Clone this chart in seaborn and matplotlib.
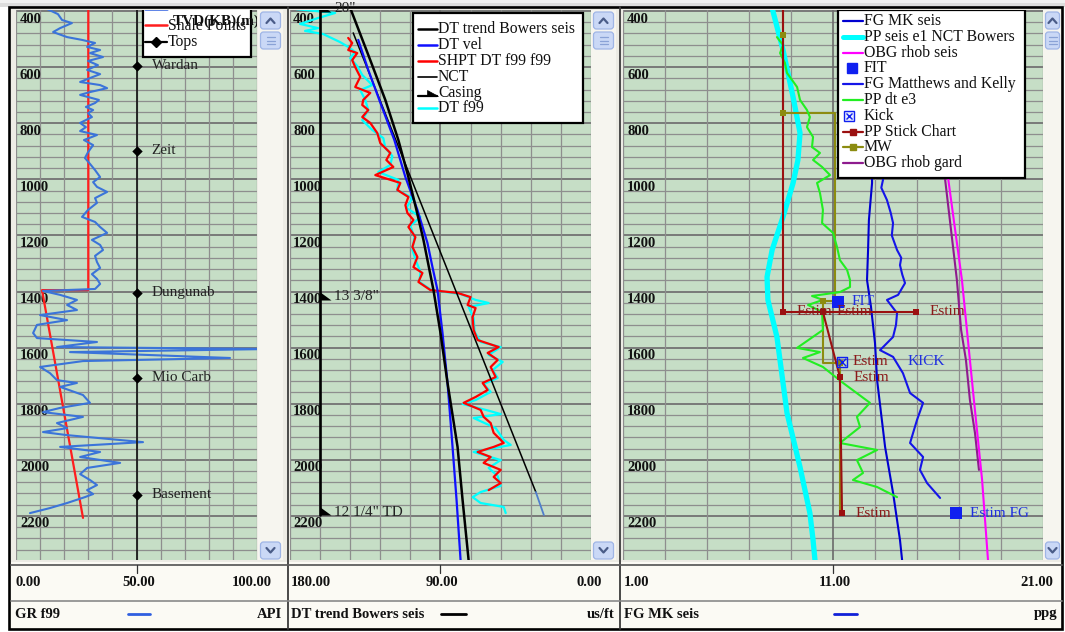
import matplotlib
matplotlib.use("Agg")
import matplotlib.pyplot as plt
import matplotlib.transforms as mtransforms
from matplotlib.patches import Rectangle, FancyBboxPatch, Polygon
from matplotlib.lines import Line2D
import seaborn as sns

# ---------------------------------------------------------------- data
DEPTH_TOP, DEPTH_BOTTOM = 396.4, 2357.2
DEPTH_LABELS = [400, 600, 800, 1000, 1200, 1400, 1600, 1800, 2000, 2200]
GRID_DEPTHS = [400 + 40 * k for k in range(0, 50)]

# Track 1 - gamma ray (API)
GR_RANGE = (0, 100)
GR_GRID = [0, 10, 20, 30, 40, 50, 60, 70, 80, 90, 100]
GR_TICKS = ["0.00", "50.00", "100.00"]
GR_DEPTH = [393, 411, 432, 443, 461, 475, 493, 503, 514, 528, 539, 550, 564, 578, 593, 610, 625, 639,
            653, 664, 675, 689, 699, 717, 728, 742, 753, 764, 778, 799, 814, 828, 842, 860, 878, 903,
            924, 945, 967, 992, 1010, 1027, 1045, 1067, 1084, 1109, 1134, 1152, 1170, 1191, 1216, 1234,
            1252, 1273, 1295, 1316, 1338, 1355, 1373, 1391, 1398, 1412, 1430, 1448, 1466, 1484, 1502,
            1519, 1548, 1566, 1580, 1598, 1605, 1616, 1637, 1648, 1669, 1691, 1716, 1726, 1740, 1769,
            1797, 1815, 1830, 1847, 1869, 1887, 1901, 1912, 1937, 1954, 1972, 1990, 2011, 2029, 2051,
            2072, 2090, 2108, 2122, 2133, 2154, 2172, 2190]
GR_API = [12.9, 17.4, 19.1, 23.2, 18.3, 15.4, 21.2, 27.4, 32.8, 29.5, 34.9, 30.7, 36.1, 29.9, 34.0,
          29.5, 34.9, 30.7, 26.6, 34.9, 37.8, 30.7, 26.6, 34.4, 32.8, 29.0, 32.0, 29.9, 31.5, 26.6,
          29.0, 26.6, 33.6, 28.2, 32.0, 29.9, 28.6, 30.7, 32.8, 34.9, 32.0, 33.6, 37.8, 32.8, 33.6,
          29.9, 27.4, 32.8, 34.9, 37.8, 31.5, 34.9, 36.1, 32.8, 33.6, 34.9, 31.5, 33.6, 34.9, 32.8,
          11.2, 18.3, 25.3, 21.2, 25.3, 10.0, 21.2, 8.7, 7.1, 8.7, 33.6, 17.0, 105.4, 22.4, 88.8,
          27.8, 10.0, 14.1, 17.0, 25.3, 18.3, 27.8, 30.7, 18.3, 11.2, 27.8, 17.0, 21.2, 11.2, 21.2,
          52.7, 18.3, 34.9, 26.6, 43.2, 29.5, 26.6, 30.7, 33.6, 29.5, 32.0, 28.6, 21.2, 14.1, 5.8]
SHALE_DEPTH = [389, 1395, 1395, 2207]
SHALE_API = [30.0, 30.0, 10.8, 27.8]
TOP_NAMES = ["Wardan", "Zeit", "Dungunab", "Mio Carb", "Basement"]
TOP_DEPTHS = [596, 899, 1405, 1708, 2125]
TOPS_TRACK_API = 50

# Track 2 - sonic (us/ft)
DT_RANGE = (180, 0)
DT_GRID = [0, 18, 36, 54, 72, 90, 108, 126, 144, 162, 180]
DT_TICKS = ["180.00", "90.00", "0.00"]
BOWERS_DEPTH = [389, 575, 717, 860, 992, 1109, 1216, 1395, 1548, 1726, 1954, 2143, 2357]
BOWERS_DT = [144.0, 132.0, 123.0, 115.2, 109.2, 104.4, 100.2, 94.2, 90.0, 85.8, 79.8, 76.8, 73.2]
DTVEL_DEPTH = [503, 610, 717, 860, 992, 1109, 1227, 1313, 1395, 1548, 1726, 1954, 2143, 2357]
DTVEL_DT = [139.2, 133.2, 126.6, 117.6, 111.0, 103.8, 97.8, 94.8, 91.8, 88.8, 85.8, 82.8, 80.4, 78.0]
NCT_DEPTH = [478, 2115]
NCT_DT = [142.2, 33.0]
NCT_TAIL_DEPTH = [2115, 2197]
NCT_TAIL_DT = [33.0, 28.2]
SHPT_DEPTH = [496, 514, 539, 550, 575, 600, 635, 671, 692, 717, 735, 753, 778, 799, 835, 871, 906, 931,
              956, 985, 1013, 1038, 1063, 1092, 1120, 1145, 1170, 1206, 1241, 1277, 1313, 1334, 1366,
              1395, 1405, 1420, 1448, 1459, 1491, 1537, 1573, 1598, 1619, 1644, 1669, 1705, 1726, 1751,
              1776, 1797, 1822, 1847, 1869, 1904, 1940, 1954, 1972, 1990, 2011, 2036, 2061, 2083, 2108]
SHPT_DT = [145.2, 142.8, 145.2, 139.8, 142.8, 141.0, 138.0, 141.0, 132.0, 136.2, 136.8, 133.2, 136.8,
           132.0, 127.8, 126.0, 120.0, 122.4, 118.2, 129.0, 114.0, 115.8, 109.2, 111.0, 109.8, 106.2,
           109.2, 105.0, 106.8, 103.8, 106.2, 100.8, 103.2, 96.0, 79.8, 72.0, 73.8, 69.0, 70.8, 70.2,
           67.8, 55.2, 61.8, 55.8, 60.0, 57.0, 64.8, 61.8, 69.0, 76.2, 66.0, 64.2, 60.0, 58.2, 52.2,
           58.2, 67.8, 60.0, 64.2, 54.0, 58.2, 54.0, 61.2]
DTF99_DEPTH = [393, 407, 425, 446, 461, 471, 482, 511, 528, 546, 568, 596, 628, 664, 682, 717, 753, 789,
               824, 853, 888, 917, 949, 974, 1002, 1038, 1067, 1102, 1134, 1166, 1206, 1252, 1295, 1330,
               1366, 1395, 1409, 1430, 1441, 1455, 1494, 1544, 1580, 1598, 1626, 1651, 1680, 1708, 1730,
               1758, 1787, 1801, 1822, 1837, 1851, 1887, 1929, 1947, 1972, 2001, 2029, 2058, 2093, 2115,
               2133, 2154, 2168, 2190]
DTF99_DT = [176.4, 153.0, 163.2, 174.0, 163.2, 171.0, 160.2, 150.0, 145.2, 141.0, 144.0, 139.8, 136.8,
            130.8, 138.0, 135.0, 133.2, 136.8, 130.8, 124.2, 123.0, 118.8, 120.0, 127.2, 115.2, 115.8,
            106.8, 110.4, 102.0, 108.0, 105.6, 106.8, 104.4, 102.0, 102.6, 95.4, 78.0, 69.0, 61.2, 73.2,
            70.2, 69.6, 66.0, 54.0, 61.2, 52.8, 58.8, 55.8, 64.2, 60.0, 69.0, 76.8, 63.0, 54.0, 70.2,
            57.0, 52.2, 48.0, 70.2, 54.0, 61.2, 55.8, 54.0, 66.0, 70.8, 66.0, 52.2, 51.0]
CASING_DT = 162
CASING_BOTTOM = 2197
CASING_SHOE_DEPTH = [403, 1430, 2197]
CASING_SHOE_NAMES = ['20"', '13 3/8"', '12 1/4" TD']

# Track 3 - pressure (ppg)
PPG_RANGE = (1, 21)
PPG_GRID = [1, 3, 5, 7, 9, 11, 13, 15, 17, 19, 21]
PPG_TICKS = ["1.00", "11.00", "21.00"]
FG_MK_DEPTH = [389, 646, 896, 1013, 1145, 1252, 1359, 1455, 1584, 1716, 1954, 2118, 2286, 2357]
FG_MK_PPG = [12.57, 12.76, 12.86, 12.86, 12.71, 12.67, 12.62, 12.81, 13.0, 13.1, 13.48, 13.86, 14.19, 14.29]
FG_MATTHEWS_DEPTH = [389, 700, 896, 1002, 1030, 1074, 1120, 1156, 1200, 1252, 1280, 1306, 1340, 1370,
                     1412, 1430, 1477, 1519, 1562, 1609, 1633, 1691, 1762, 1797, 1858, 1940, 1990, 2036,
                     2083, 2136]
FG_MATTHEWS_PPG = [13.0, 13.1, 13.24, 13.38, 13.3, 13.57, 13.75, 13.86, 13.8, 14.05, 14.25, 14.19, 14.3,
                   14.43, 14.10, 13.57, 14.05, 14.0, 13.86, 13.24, 13.86, 14.33, 14.67, 15.29, 15.0,
                   14.67, 15.29, 15.14, 15.48, 16.10]
PP_SEIS_DEPTH = [389, 539, 707, 835, 931, 1013, 1134, 1252, 1348, 1430, 1562, 1833, 2026, 2190, 2286, 2357]
PP_SEIS_PPG = [8.10, 8.62, 9.10, 9.43, 9.33, 9.10, 8.62, 8.10, 7.86, 7.90, 8.33, 8.81, 9.43, 9.90, 10.05, 10.14]
OBG_SEIS_DEPTH = [389, 995, 1359, 1787, 2072, 2357]
OBG_SEIS_PPG = [15.86, 16.48, 17.14, 17.71, 18.10, 18.38]
OBG_GARD_DEPTH = [389, 995, 1359, 1537, 1644, 1787, 1904, 2036]
OBG_GARD_PPG = [15.52, 16.33, 16.90, 17.10, 17.33, 17.52, 17.76, 17.95]
PPDT_DEPTH = [493, 521, 550, 585, 621, 671, 717, 753, 778, 814, 849, 885, 906, 931, 956, 985, 1013, 1049,
              1109, 1156, 1191, 1241, 1288, 1323, 1359, 1384, 1402, 1416, 1430, 1448, 1473, 1537, 1601,
              1616, 1637, 1669, 1726, 1797, 1847, 1883, 1940, 1965, 2001, 2047, 2072, 2097, 2133]
PPDT_PPG = [8.33, 8.62, 8.48, 8.71, 8.81, 9.29, 9.43, 9.76, 9.90, 9.76, 10.05, 10.0, 10.38, 10.05, 10.48,
            10.86, 10.24, 10.38, 10.52, 10.48, 11.0, 11.19, 11.33, 11.67, 11.81, 11.81, 11.33, 10.0,
            10.52, 9.81, 10.48, 10.52, 9.29, 10.38, 9.57, 10.52, 11.48, 12.76, 12.14, 12.29, 11.33,
            13.1, 12.14, 12.43, 11.95, 13.1, 14.05]
STICK_A_DEPTH, STICK_A_PPG = [389, 1473], [8.62, 8.62]
STICK_B_DEPTH, STICK_B_PPG = [1473, 1473], [8.62, 14.95]
STICK_C_DEPTH, STICK_C_PPG = [1473, 1705, 2190], [10.52, 11.33, 11.43]
STICK_MARK_DEPTH = [1473, 1473, 1473, 1705, 2190]
STICK_MARK_PPG = [8.62, 10.52, 14.95, 11.33, 11.43]
MW_DEPTH = [389, 486, 764, 764, 1434, 1434, 1655, 1655, 2190]
MW_PPG = [8.62, 8.62, 8.62, 11.10, 11.10, 10.52, 10.52, 11.33, 11.33]
MW_MARK_DEPTH = [486, 764, 1434, 1655]
MW_MARK_PPG = [8.62, 8.62, 10.52, 11.33]
FIT_DEPTH, FIT_PPG = [1437], [11.24]
KICK_DEPTH, KICK_PPG = [1651], [11.43]
ESTIM_FG_DEPTH, ESTIM_FG_PPG = [2190], [16.86]

# ---------------------------------------------------------------- style
sns.set_theme(style="white")
plt.rcParams['font.family'] = ['Liberation Serif', 'DejaVu Serif']

W, H = 1065, 632
PANEL_TOP, PANEL_BOTTOM = 10, 560
GREEN = '#C6DEC6'
GRID = '#8E8E8E'
GRID_MAJOR = '#767676'
CREAM = '#FBFAF4'
PANEL_GREY = '#ECEBE4'

fig = plt.figure(figsize=(W / 100, H / 100), dpi=100, facecolor='white')
PIX = mtransforms.Affine2D().scale(1.0 / W, -1.0 / H).translate(0, 1) + fig.transFigure

# background canvas in pixel units (frame, scroll bars, scale boxes)
bg = fig.add_axes([0, 0, 1, 1], zorder=0)
bg.set_xlim(0, W)
bg.set_ylim(H, 0)
bg.axis('off')

bg.add_patch(Rectangle((0, 0), W, 3, fc='#F1F1F1', ec='none'))
bg.add_patch(Rectangle((0, 3), W, 4, fc='#DDDDDD', ec='none'))
bg.add_patch(Rectangle((9, 7), 1053, 622, fc=PANEL_GREY, ec='none'))


def scroll_column(x0, x1):
    w = x1 - x0
    cx = (x0 + x1) / 2
    bg.add_patch(Rectangle((x0, PANEL_TOP), w, PANEL_BOTTOM - PANEL_TOP, fc='#F6F5EF', ec='none'))
    for yb, hb in [(12, 17), (32, 17), (542, 17)]:
        bg.add_patch(FancyBboxPatch((x0 + 2.5, yb), w - 5, hb,
                                    boxstyle='round,pad=0,rounding_size=3',
                                    fc='#CAD8F6', ec='#9FB5E6', lw=0.9))
    bg.plot([cx - 4, cx, cx + 4], [23, 18.5, 23], color='#4A5C88', lw=1.6, solid_capstyle='round')
    for yy in (37, 40.5, 44):
        bg.plot([cx - 4, cx + 4], [yy, yy], color='#8AA2D6', lw=0.9)
    bg.plot([cx - 4, cx, cx + 4], [548, 552.5, 548], color='#4A5C88', lw=1.6, solid_capstyle='round')


scroll_column(258, 283)
scroll_column(591, 616)
scroll_column(1043, 1062)
bg.add_patch(Rectangle((10, PANEL_TOP), 6, PANEL_BOTTOM - PANEL_TOP, fc='#EEEDE6', ec='none'))

for xd in (287.5, 620):
    bg.plot([xd, xd], [7, 629], color='#3C3C3C', lw=1.3)


def scale_box(x0, x1, ticks, tick_x, name, unit, key_color, key_x, lo_x, hi_x):
    bg.add_patch(Rectangle((x0, 562), x1 - x0, 66, fc=CREAM, ec='none'))
    bg.plot([x0, x1], [565, 565], color='#5E5E5E', lw=1.3)
    bg.plot([x0, x1], [600.5, 600.5], color='#8A8A8A', lw=1.2)
    bg.plot([tick_x, tick_x], [565, 573], color='#333333', lw=0.9)
    kw = dict(va='center', fontsize=10.5, fontweight='bold', color='#111111')
    bg.text(lo_x, 582, ticks[0], ha='left', **kw)
    bg.text(tick_x + 2, 582, ticks[1], ha='center', **kw)
    bg.text(hi_x, 582, ticks[2], ha='right', **kw)
    bg.text(lo_x, 614, name, ha='left', **kw)
    bg.text(x1 - 5, 614, unit, ha='right', **kw)
    bg.plot(key_x, [614, 614], color=key_color, lw=2.0)


scale_box(11, 287, GR_TICKS, 136.5, "GR f99", "API", '#2F5FE0', [128, 150], 15, 272)
scale_box(288, 620, DT_TICKS, 440, "DT trend Bowers seis", "us/ft", 'black', [441, 466], 291, 602)
scale_box(621, 1062, PPG_TICKS, 833, "FG MK seis", "ppg", '#1020D8', [834, 857], 624, 1053)

bg.add_patch(Rectangle((9, 7), 1053, 622, fc='none', ec='black', lw=1.9))


# ---------------------------------------------------------------- tracks
def track_axes(x0, x1):
    return fig.add_axes([x0 / W, 1 - PANEL_BOTTOM / H, (x1 - x0) / W,
                         (PANEL_BOTTOM - PANEL_TOP) / H], zorder=2)


def finish_track(ax, xlim, xgrid, center, label_dx):
    ax.set_facecolor(GREEN)
    for s in ax.spines.values():
        s.set_visible(False)
    for d in GRID_DEPTHS:
        major = d % 200 == 0
        ax.axhline(d, color=GRID_MAJOR if major else GRID, lw=1.35 if major else 0.9, zorder=0.5)
    for xv in xgrid:
        c = xv == center
        ax.axvline(xv, color='#6A6A6A' if c else GRID, lw=1.2 if c else 0.9, zorder=0.5)
    for d in DEPTH_LABELS:
        ax.annotate(str(d), xy=(0, d), xycoords=('axes fraction', 'data'),
                    xytext=(label_dx, -8), textcoords='offset pixels', ha='left', va='center',
                    fontsize=10.5, fontweight='bold', color='#111111', zorder=1.5)
    ax.set_xlim(*xlim)
    ax.set_ylim(DEPTH_BOTTOM, DEPTH_TOP)
    ax.set_xticks([])
    ax.set_yticks([])
    ax.set_xlabel('')
    ax.set_ylabel('')


def curve(ax, x, y, color, lw, z=3):
    sns.lineplot(x=x, y=y, sort=False, estimator=None, color=color, linewidth=lw, ax=ax, zorder=z)


def marks(ax, x, y, marker, size, color, z=6, **kw):
    sns.scatterplot(x=x, y=y, marker=marker, s=size, color=color, linewidth=0,
                    ax=ax, zorder=z, legend=False, **kw)


def tag(ax, x, y, text, color, dx, dy=0, size=11):
    ax.annotate(text, xy=(x, y), xytext=(dx, dy), textcoords='offset pixels', ha='left',
                va='center', color=color, fontsize=size, zorder=7)


def legend_frame(ax, x0, y0, x1, y1):
    ax.add_artist(Rectangle((x0, y0), x1 - x0, y1 - y0, transform=PIX, fc='white',
                            ec='black', lw=1.6, zorder=20))


def key_line(ax, x0, x1, y, color, lw, marker=None, ms=0, mfc=None):
    ax.add_artist(Line2D([x0, (x0 + x1) / 2, x1], [y, y, y], transform=PIX, color=color, lw=lw,
                         marker=marker, markevery=[1], ms=ms, mfc=mfc or color, mec=color,
                         zorder=21))


def key_mark(ax, x, y, marker, ms, color, mfc=None, mew=1.0):
    ax.add_artist(Line2D([x], [y], transform=PIX, ls='none', marker=marker, ms=ms,
                         mfc=mfc or color, mec=color, mew=mew, zorder=21))


def key_text(ax, x, y, text, size=11.3, weight='normal'):
    ax.text(x, y, text, transform=PIX, ha='left', va='center', fontsize=size,
            fontweight=weight, color='#111111', zorder=22, clip_on=True)


# ---- track 1: gamma ray
ax1 = track_axes(16, 257)
curve(ax1, SHALE_API, SHALE_DEPTH, '#FF1E1E', 1.6, z=3)
curve(ax1, GR_API, GR_DEPTH, '#3B74D9', 1.5, z=4)
ax1.axvline(TOPS_TRACK_API, color='#1A1A1A', lw=1.3, zorder=4)
marks(ax1, [TOPS_TRACK_API] * len(TOP_DEPTHS), TOP_DEPTHS, 'D', 28, 'black')
for name, d in zip(TOP_NAMES, TOP_DEPTHS):
    tag(ax1, TOPS_TRACK_API, d, name, '#222222', 15, 0, 11)
finish_track(ax1, GR_RANGE, GR_GRID, None, 4)

legend_frame(ax1, 143, -30, 251, 57)
key_line(ax1, 145, 167, 9, '#2F5FE0', 1.8)
key_text(ax1, 168, 5, "GR f99")
key_line(ax1, 145, 167, 25, '#FF1E1E', 1.8)
key_text(ax1, 168, 26, "Shale Points")
key_line(ax1, 145, 167, 42, 'black', 1.6, marker='D', ms=5)
key_text(ax1, 168, 42, "Tops")
key_text(ax1, 173, 21, "TVD(KB)(m)", size=11, weight='bold')

# ---- track 2: sonic
ax2 = track_axes(290, 591)
curve(ax2, [CASING_DT, CASING_DT], [DEPTH_TOP - 20, CASING_BOTTOM], 'black', 1.9, z=5)
SHOE = [(0, 0), (0, 0.73), (1, 0), (0, 0)]
ax2.scatter([CASING_DT] * len(CASING_SHOE_DEPTH), CASING_SHOE_DEPTH, marker=SHOE, s=251,
            c='black', linewidths=0, zorder=5)
for name, d in zip(CASING_SHOE_NAMES, CASING_SHOE_DEPTH):
    tag(ax2, CASING_DT, d, name, '#222222', 14, 3, 11)
curve(ax2, DTF99_DT, DTF99_DEPTH, '#00FFFF', 1.6, z=3)
curve(ax2, SHPT_DT, SHPT_DEPTH, '#FF0000', 1.6, z=3.2)
curve(ax2, NCT_DT, NCT_DEPTH, 'black', 1.1, z=3.4)
curve(ax2, NCT_TAIL_DT, NCT_TAIL_DEPTH, '#4F7FCC', 1.3, z=3.4)
curve(ax2, DTVEL_DT, DTVEL_DEPTH, '#1010FF', 1.6, z=3.5)
curve(ax2, BOWERS_DT, BOWERS_DEPTH, 'black', 1.8, z=3.6)
finish_track(ax2, DT_RANGE, DT_GRID, 90, 3)

legend_frame(ax2, 413, 13, 583, 123)
key_line(ax2, 418, 437, 29, 'black', 1.8)
key_text(ax2, 438, 29, "DT trend Bowers seis")
key_line(ax2, 418, 437, 45, '#1010FF', 1.8)
key_text(ax2, 438, 45, "DT vel")
key_line(ax2, 418, 437, 61, '#FF0000', 1.8)
key_text(ax2, 438, 61, "SHPT DT f99 f99")
key_line(ax2, 418, 437, 77, 'black', 1.2)
key_text(ax2, 438, 77, "NCT")
key_line(ax2, 418, 437, 96, 'black', 1.6)
ax2.add_artist(Polygon([(427, 89.5), (427, 96), (438, 96)], closed=True, transform=PIX,
                       fc='black', ec='black', lw=0.5, zorder=21))
key_text(ax2, 438, 93, "Casing")
key_line(ax2, 418, 437, 108, '#00FFFF', 1.8)
key_text(ax2, 438, 108, "DT f99")

# ---- track 3: pressure
ax3 = track_axes(623, 1043)
curve(ax3, PP_SEIS_PPG, PP_SEIS_DEPTH, '#00FFFF', 3.8, z=3)
curve(ax3, OBG_GARD_PPG, OBG_GARD_DEPTH, '#8E1B8E', 1.5, z=3.1)
curve(ax3, OBG_SEIS_PPG, OBG_SEIS_DEPTH, '#FF00FF', 1.5, z=3.2)
curve(ax3, FG_MK_PPG, FG_MK_DEPTH, '#0000D0', 1.5, z=3.3)
curve(ax3, FG_MATTHEWS_PPG, FG_MATTHEWS_DEPTH, '#1515E8', 1.5, z=3.3)
curve(ax3, MW_PPG, MW_DEPTH, '#8C8C10', 1.5, z=3.4)
curve(ax3, PPDT_PPG, PPDT_DEPTH, '#22EE22', 1.5, z=3.5)
for sx, sy in [(STICK_A_PPG, STICK_A_DEPTH), (STICK_B_PPG, STICK_B_DEPTH), (STICK_C_PPG, STICK_C_DEPTH)]:
    curve(ax3, sx, sy, '#9B1010', 1.5, z=3.6)
marks(ax3, MW_MARK_PPG, MW_MARK_DEPTH, 's', 14, '#8C8C10')
marks(ax3, STICK_MARK_PPG, STICK_MARK_DEPTH, 's', 20, '#9B1010')
for p, d in zip(STICK_MARK_PPG, STICK_MARK_DEPTH):
    tag(ax3, p, d, "Estim", '#8B1A1A', 14)
marks(ax3, FIT_PPG, FIT_DEPTH, 's', 64, '#1020F0')
tag(ax3, FIT_PPG[0], FIT_DEPTH[0], "FIT", '#2030E0', 13)
ax3.scatter(KICK_PPG, KICK_DEPTH, marker='s', s=45, facecolors='none', edgecolors='#1020F0',
            linewidths=1.0, zorder=6)
ax3.scatter(KICK_PPG, KICK_DEPTH, marker='x', s=30, c='#1020F0', linewidths=1.0, zorder=6)
tag(ax3, KICK_PPG[0], KICK_DEPTH[0], "Estim", '#8B1A1A', 11)
tag(ax3, KICK_PPG[0], KICK_DEPTH[0], "KICK", '#2030E0', 66)
marks(ax3, ESTIM_FG_PPG, ESTIM_FG_DEPTH, 's', 75, '#1020F0')
tag(ax3, ESTIM_FG_PPG[0], ESTIM_FG_DEPTH[0], "Estim FG", '#2030E0', 14)
finish_track(ax3, PPG_RANGE, PPG_GRID, 11, 4)

legend_frame(ax3, 838, 10, 1025, 178)
rows = [21 + 15.8 * i for i in range(10)]
key_line(ax3, 843, 863, rows[0], '#0000D0', 1.6)
key_text(ax3, 864, rows[0], "FG MK seis")
key_line(ax3, 843, 863, rows[1], '#00FFFF', 3.6)
key_text(ax3, 864, rows[1], "PP seis e1 NCT Bowers")
key_line(ax3, 843, 863, rows[2], '#FF00FF', 1.6)
key_text(ax3, 864, rows[2], "OBG rhob seis")
key_mark(ax3, 852, rows[3], 's', 7.5, '#1020F0')
key_text(ax3, 864, rows[3], "FIT")
key_line(ax3, 843, 863, rows[4], '#1515E8', 1.6)
key_text(ax3, 864, rows[4], "FG Matthews and Kelly")
key_line(ax3, 843, 863, rows[5], '#22EE22', 1.6)
key_text(ax3, 864, rows[5], "PP dt e3")
key_mark(ax3, 849, rows[6], 's', 6.5, '#1020F0', mfc='#E6ECFF')
key_mark(ax3, 849, rows[6], 'x', 5.0, '#1020F0')
key_text(ax3, 864, rows[6], "Kick")
key_line(ax3, 843, 863, rows[7], '#9B1010', 1.6, marker='s', ms=4)
key_text(ax3, 864, rows[7], "PP Stick Chart")
key_line(ax3, 843, 863, rows[8], '#8C8C10', 1.6, marker='s', ms=4)
key_text(ax3, 864, rows[8], "MW")
key_line(ax3, 843, 863, rows[9], '#8E1B8E', 1.6)
key_text(ax3, 864, rows[9], "OBG rhob gard")

fig.savefig("out.png", dpi=100, facecolor='white')
